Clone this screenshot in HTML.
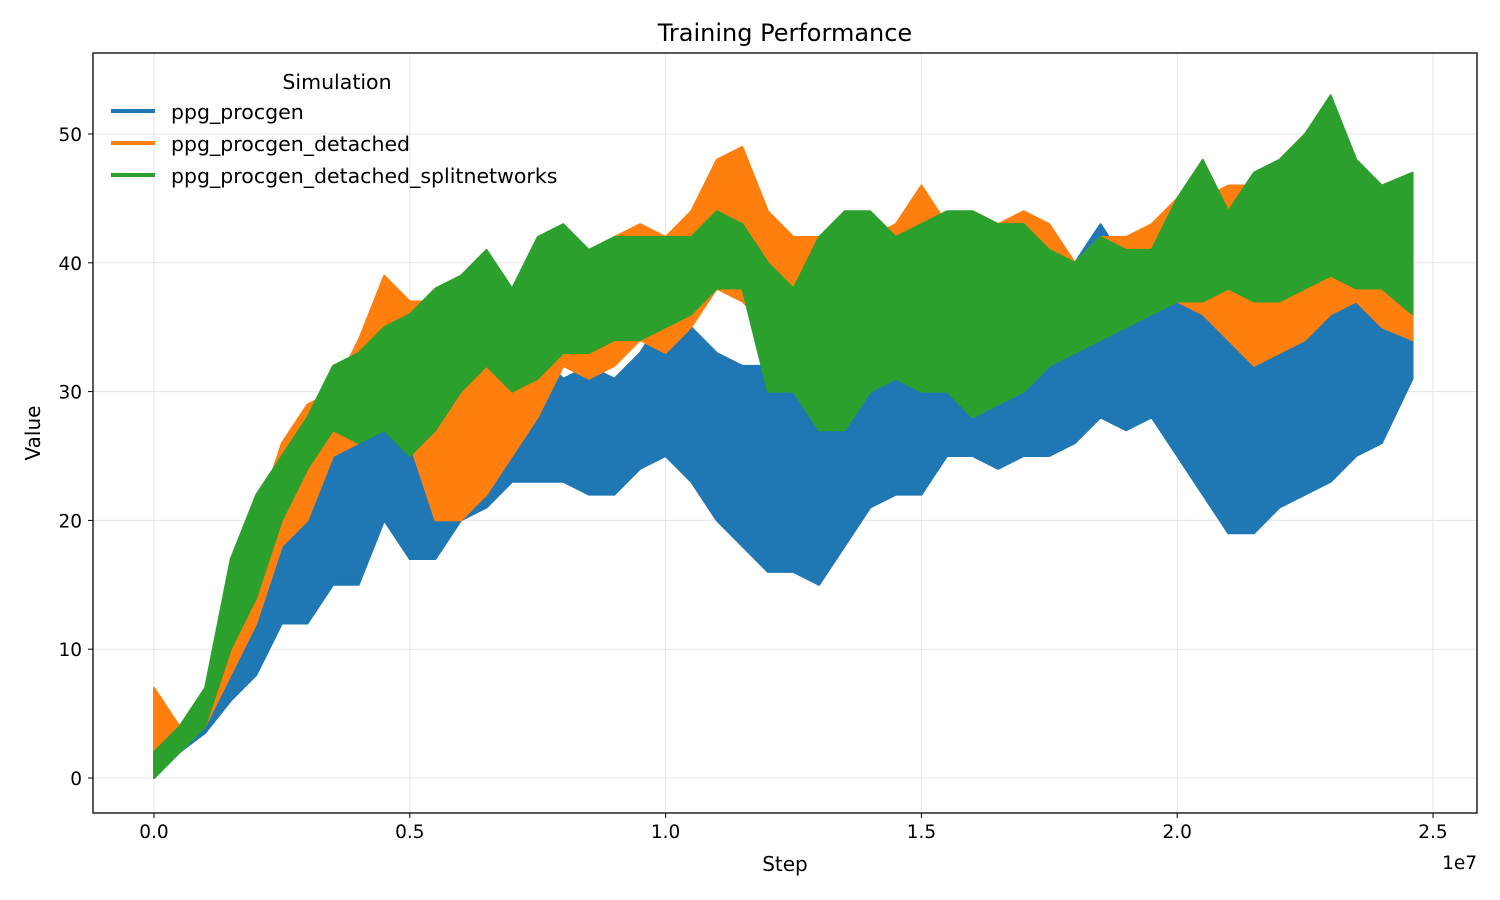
<!DOCTYPE html>
<html><head><meta charset="utf-8"><style>
body{margin:0;background:#fff}
svg{display:block;font-family:"DejaVu Sans","Liberation Sans",sans-serif}
</style></head><body>
<svg id="chart" width="1500" height="900" viewBox="0 0 1500 900" xmlns="http://www.w3.org/2000/svg">
<rect width="1500" height="900" fill="#fff"/>
<g id="grid"></g>
<g id="series"></g>
<rect x="93" y="53" width="1384" height="760" fill="none" stroke="#000" stroke-width="1.3"/>
<g id="ticks" font-size="18.5" fill="#000"></g>
<text x="785" y="41" font-size="24" text-anchor="middle">Training Performance</text>
<text x="785" y="871" font-size="20" text-anchor="middle">Step</text>
<text x="1477" y="869" font-size="18.5" text-anchor="end">1e7</text>
<text transform="translate(40,433) rotate(-90)" font-size="20" text-anchor="middle">Value</text>
<g font-size="20.5">
<text x="337" y="89" text-anchor="middle">Simulation</text>
<g><line x1="111" y1="111" x2="155" y2="111" stroke="#1f77b4" stroke-width="4"/><text x="171" y="119">ppg_procgen</text></g>
<g><line x1="111" y1="143" x2="155" y2="143" stroke="#ff7f0e" stroke-width="4"/><text x="171" y="151">ppg_procgen_detached</text></g>
<g><line x1="111" y1="175" x2="155" y2="175" stroke="#2ca02c" stroke-width="4"/><text x="171" y="183">ppg_procgen_detached_splitnetworks</text></g>
</g>
</svg>
<script>
// steps in units of 1e6
const steps=[0,0.5,1,1.5,2,2.5,3,3.5,4,4.5,5,5.5,6,6.5,7,7.5,8,8.5,9,9.5,10,10.5,11,11.5,12,12.5,13,13.5,14,14.5,15,15.5,16,16.5,17,17.5,18,18.5,19,19.5,20,20.5,21,21.5,22,22.5,23,23.5,24,24.6];
const blueLo=[0,2,3.5,6,8,12,12,15,15,20,17,17,20,21,23,23,23,22,22,24,25,23,20,18,16,16,15,18,21,22,22,25,25,24,25,25,26,28,27,28,25,22,19,19,21,22,23,25,26,31];
const blueHi=[2,3.5,5,10,20,24,27,30,34,30,27,26,25,32,30,33,31,32,31,33,36,35,33,32,32,30,28,29,33,35,36,37,35,32,38,36,40,43,40,38,37,36,37,36,34,35,38,38,40,36];
const orangeLo=[1,2,4,8,12,18,20,25,26,28,26,20,20,22,25,28,32,31,32,34,33,35,38,37,35,32,28,28,32,33,34,33,32,33,33,34,34,36,35,37,37,36,34,32,33,34,36,37,35,34];
const orangeHi=[7,4,6,13,20,26,29,30,34,39,37,37,36,38,36,38,38,40,42,43,42,44,48,49,44,42,42,42,42,43,46,43,44,43,44,43,40,42,42,43,45,45,46,46,45,48,51,46,45,45];
const greenLo=[0,2,4,10,14,20,24,27,26,27,25,27,30,32,30,31,33,33,34,34,35,36,38,38,30,30,27,27,30,31,30,30,28,29,30,32,33,34,35,36,37,37,38,37,37,38,39,38,38,36];
const greenHi=[2,4,7,17,22,25,28,32,33,35,36,38,39,41,38,42,43,41,42,42,42,42,44,43,40,38,42,44,44,42,43,44,44,43,43,41,40,42,41,41,45,48,44,47,48,50,53,48,46,47];
const yTicks=[0,10,20,30,40,50];
const xTicks=[0,0.5,1.0,1.5,2.0,2.5];
const xTickLabels=["0.0","0.5","1.0","1.5","2.0","2.5"];

const NS="http://www.w3.org/2000/svg";
const xs=v=>154+v*51.16;        // v in 1e6
const xt=v=>154+v*511.6;        // v in 1e7
const ys=v=>778-v*12.88;
const grid=document.getElementById('grid'),ticks=document.getElementById('ticks'),ser=document.getElementById('series');
function mk(tag,attrs,parent){const e=document.createElementNS(NS,tag);for(const k in attrs)e.setAttribute(k,attrs[k]);parent.appendChild(e);return e;}
yTicks.forEach(v=>{
  const g=mk('line',{x1:93,x2:1477,y1:ys(v),y2:ys(v),stroke:'#e5e5e5','stroke-width':1},grid);
  
  
  mk('line',{x1:88,x2:93,y1:ys(v),y2:ys(v),stroke:'#000'},ticks);
  const t=mk('text',{x:82,y:ys(v)+7,'text-anchor':'end'},ticks);t.textContent=v;
  
  
});
xTicks.forEach((v,i)=>{
  const g=mk('line',{x1:xt(v),x2:xt(v),y1:53,y2:813,stroke:'#e5e5e5','stroke-width':1},grid);
  
  
  mk('line',{x1:xt(v),x2:xt(v),y1:813,y2:818,stroke:'#000'},ticks);
  const t=mk('text',{x:xt(v),y:838,'text-anchor':'middle'},ticks);t.textContent=xTickLabels[i];
  
  
});
function band(lo,hi,color,name){
  let pts=steps.map((s,i)=>xs(s)+','+ys(hi[i]));
  for(let i=steps.length-1;i>=0;i--)pts.push(xs(steps[i])+','+ys(lo[i]));
  const p=mk('polygon',{points:pts.join(' '),fill:color,stroke:color,'stroke-width':2,'stroke-linejoin':'round'},ser);
  
  
}
band(blueLo,blueHi,'#1f77b4','series-ppg-procgen');
band(orangeLo,orangeHi,'#ff7f0e','series-ppg-procgen-detached');
band(greenLo,greenHi,'#2ca02c','series-ppg-procgen-detached-splitnetworks');
</script>
</body></html>
